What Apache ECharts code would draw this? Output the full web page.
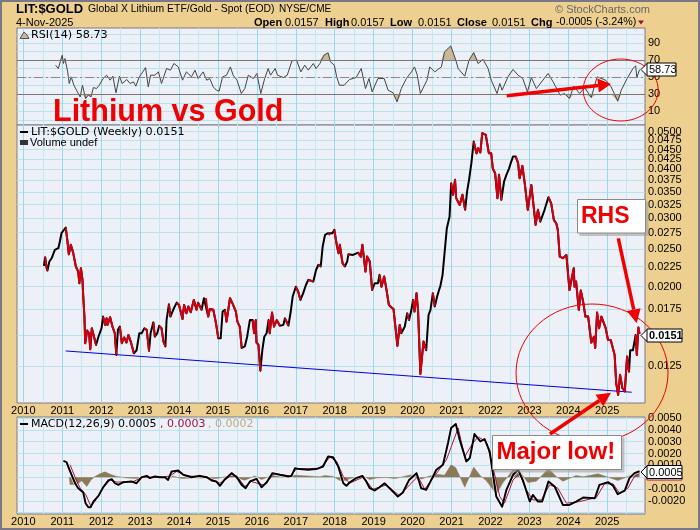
<!DOCTYPE html>
<html>
<head>
<meta charset="utf-8">
<title>LIT:$GOLD</title>
<script src="https://cdn.jsdelivr.net/npm/echarts@6/dist/echarts.min.js"></script>
<style>
html, body { margin: 0; padding: 0; background: #edcf90; }
#chart { width: 700px; height: 530px; }
</style>
</head>
<body>
<div id="chart"></div>
<script>
// weekly ratio (decimal year / close)
var priceYears = [2010.53,2010.56,2010.60,2010.62,2010.67,2010.73,2010.77,2010.81,2010.90,2010.94,2010.98,2011.03,2011.09,2011.13,2011.17,2011.22,2011.28,2011.35,2011.41,2011.44,2011.48,2011.52,2011.54,2011.57,2011.59,2011.64,2011.69,2011.72,2011.76,2011.81,2011.87,2011.93,2012.01,2012.05,2012.10,2012.14,2012.16,2012.23,2012.29,2012.35,2012.39,2012.43,2012.48,2012.53,2012.59,2012.65,2012.70,2012.76,2012.84,2012.91,2012.98,2013.04,2013.11,2013.17,2013.23,2013.27,2013.34,2013.38,2013.44,2013.49,2013.55,2013.60,2013.65,2013.68,2013.74,2013.78,2013.85,2013.94,2014.00,2014.09,2014.13,2014.19,2014.24,2014.30,2014.38,2014.45,2014.49,2014.58,2014.64,2014.69,2014.75,2014.79,2014.88,2014.95,2015.01,2015.07,2015.12,2015.18,2015.22,2015.31,2015.39,2015.46,2015.50,2015.56,2015.61,2015.69,2015.75,2015.82,2015.89,2015.93,2015.97,2015.99,2016.04,2016.09,2016.14,2016.19,2016.25,2016.30,2016.33,2016.39,2016.44,2016.51,2016.59,2016.68,2016.72,2016.81,2016.87,2016.92,2017.00,2017.06,2017.12,2017.19,2017.26,2017.32,2017.45,2017.52,2017.58,2017.64,2017.69,2017.75,2017.83,2017.88,2017.94,2017.99,2018.03,2018.06,2018.10,2018.13,2018.20,2018.26,2018.32,2018.35,2018.38,2018.47,2018.60,2018.67,2018.71,2018.79,2018.83,2018.90,2018.96,2019.03,2019.11,2019.15,2019.20,2019.27,2019.33,2019.39,2019.45,2019.51,2019.61,2019.67,2019.71,2019.80,2019.86,2019.91,2019.97,2020.01,2020.05,2020.10,2020.14,2020.20,2020.28,2020.35,2020.41,2020.46,2020.52,2020.57,2020.63,2020.68,2020.71,2020.77,2020.82,2020.88,2020.95,2020.99,2021.04,2021.09,2021.12,2021.21,2021.28,2021.35,2021.40,2021.45,2021.51,2021.57,2021.64,2021.68,2021.74,2021.79,2021.88,2021.96,2022.02,2022.06,2022.12,2022.18,2022.22,2022.28,2022.35,2022.41,2022.48,2022.52,2022.58,2022.65,2022.71,2022.75,2022.82,2022.88,2022.96,2023.05,2023.09,2023.16,2023.22,2023.28,2023.39,2023.49,2023.56,2023.63,2023.69,2023.73,2023.78,2023.86,2023.95,2024.03,2024.14,2024.16,2024.20,2024.27,2024.32,2024.38,2024.44,2024.51,2024.59,2024.66,2024.69,2024.74,2024.79,2024.85,2024.96,2025.02,2025.09,2025.19,2025.23,2025.28,2025.33,2025.39,2025.45,2025.51,2025.56,2025.59,2025.66,2025.73,2025.76,2025.80,2025.83];
var priceValues = [.02261,.02379,.02229,.02198,.02320,.02366,.02375,.02484,.02509,.02610,.02742,.02770,.02836,.02636,.02420,.02560,.02444,.02252,.02185,.02040,.02229,.02081,.01886,.01674,.01430,.01541,.01517,.01380,.01563,.01557,.01416,.01486,.01563,.01674,.01594,.01657,.01594,.01667,.01578,.01517,.01334,.01548,.01578,.01430,.01480,.01436,.01501,.01444,.01347,.01372,.01517,.01517,.01563,.01548,.01367,.01517,.01618,.01486,.01517,.01585,.01563,.01444,.01403,.01640,.01800,.01674,.01743,.01818,.01794,.01650,.01794,.01708,.01777,.01718,.01848,.01743,.01818,.01743,.01867,.01867,.01674,.01750,.01743,.01609,.01472,.01472,.01725,.01743,.01625,.01867,.01794,.01725,.01625,.01578,.01391,.01403,.01486,.01640,.01640,.01517,.01640,.01436,.01416,.01215,.01372,.01486,.01517,.01640,.01517,.01715,.01578,.01640,.01585,.01594,.01657,.01588,.01725,.01886,.01998,.01942,.01848,.01923,.02018,.02081,.02060,.02206,.02275,.02252,.02535,.02714,.02742,.02714,.02742,.02798,.02636,.02535,.02434,.02560,.02298,.02252,.02320,.02420,.02397,.02411,.02444,.02388,.02560,.02185,.02388,.02320,.01960,.02040,.02040,.02143,.01998,.02123,.01960,.01794,.01770,.01750,.01408,.01594,.01517,.01578,.01708,.01640,.01743,.01848,.01725,.01923,.01743,.01193,.01444,.01372,.01691,.01743,.01923,.01777,.01886,.01960,.01998,.02143,.02434,.02825,.03026,.03686,.03443,.03761,.03374,.03241,.03443,.03149,.03511,.03761,.04150,.04718,.04398,.04535,.04425,.04956,.04905,.04398,.04398,.04026,.03910,.03374,.03873,.03340,.03723,.03873,.04026,.04150,.04315,.04315,.04150,.03798,.04084,.03686,.03149,.03648,.03611,.02881,.03149,.02936,.03149,.03394,.03272,.02964,.02908,.02798,.02388,.02366,.02411,.01960,.02229,.01998,.02060,.01743,.01953,.01830,.01674,.01674,.01436,.01486,.01391,.01715,.01563,.01674,.01563,.01458,.01458,.01334,.01129,.01054,.01186,.01096,.01075,.01322,.01209,.01372,.01372,.01501,.01334,.01570,.01510];

var trendYears = [2011.09, 2025.63];
var trendValues = [.01366, .0107];

var rsiYears = [2010.83,2010.90,2010.96,2011.00,2011.03,2011.07,2011.14,2011.18,2011.23,2011.30,2011.39,2011.46,2011.52,2011.60,2011.67,2011.74,2011.80,2011.88,2011.95,2012.05,2012.14,2012.23,2012.30,2012.38,2012.47,2012.54,2012.66,2012.74,2012.83,2012.89,2012.98,2013.07,2013.14,2013.21,2013.27,2013.38,2013.47,2013.55,2013.60,2013.68,2013.78,2013.87,2013.98,2014.09,2014.19,2014.32,2014.41,2014.49,2014.62,2014.71,2014.79,2014.88,2014.96,2015.03,2015.12,2015.22,2015.32,2015.39,2015.49,2015.60,2015.69,2015.78,2015.91,2016.00,2016.10,2016.20,2016.29,2016.35,2016.47,2016.53,2016.68,2016.78,2016.90,2017.02,2017.13,2017.23,2017.32,2017.45,2017.52,2017.62,2017.72,2017.83,2017.89,2017.99,2018.05,2018.12,2018.24,2018.38,2018.55,2018.68,2018.79,2018.88,2018.96,2019.11,2019.27,2019.37,2019.50,2019.60,2019.71,2019.84,2019.97,2020.05,2020.12,2020.20,2020.37,2020.44,2020.57,2020.74,2020.82,2020.98,2021.11,2021.17,2021.34,2021.45,2021.57,2021.68,2021.81,2021.94,2022.02,2022.17,2022.24,2022.30,2022.45,2022.58,2022.71,2022.83,2022.95,2023.05,2023.18,2023.48,2023.61,2023.79,2023.90,2024.03,2024.14,2024.29,2024.42,2024.59,2024.74,2024.96,2025.10,2025.27,2025.36,2025.51,2025.66,2025.73,2025.76,2025.83];
var rsiValues = [64,60.1,69.9,75.7,66,71.8,56.2,42.6,50.4,40.6,32.8,27,40.6,25,29,27,37.9,36.7,40.6,48.4,52.3,46.5,51.2,31.7,51.2,42.6,47.3,42.6,44.5,39.5,50.4,56.2,61.3,38.7,52.3,52.3,56.2,42.6,40.6,60.1,58.2,66,62,46.5,56.2,50.4,58.2,48.4,56.2,46.5,48.4,38.7,34.8,33.6,50.4,52.3,62,52.3,46.5,30.9,36.7,52.3,48.4,54.3,30.9,48.4,60.1,52.3,60.1,52.3,49.6,52.3,69.1,69.9,56.2,64,58.2,66,60.1,66,75.7,78.5,67.9,64,50.4,40.6,40.6,47.3,49.6,60.1,36.7,48.4,32.8,48.4,48.4,34.8,31.7,21.2,36.7,48.4,56.2,62,52.3,30.9,46.5,62,56.2,62,79.6,86.6,69.9,60.1,51.2,69.9,78.8,66,70.7,60.1,46.5,30.9,42.6,34.8,50.4,59,52.3,48.4,32.8,49.6,36.7,54.3,44.5,29,30.9,25,39.5,30.9,37.9,26.2,50.4,46.5,38.7,21.9,34.8,48.4,60.1,63.3,49.6,58.73];

var macdYears = [2011.03,2011.11,2011.17,2011.24,2011.33,2011.41,2011.48,2011.54,2011.60,2011.67,2011.73,2011.80,2011.93,2012.05,2012.18,2012.27,2012.35,2012.44,2012.57,2012.78,2012.91,2013.04,2013.17,2013.25,2013.38,2013.51,2013.64,2013.72,2013.81,2013.98,2014.11,2014.32,2014.54,2014.71,2014.84,2014.96,2015.05,2015.18,2015.35,2015.48,2015.61,2015.71,2015.82,2015.99,2016.12,2016.25,2016.40,2016.59,2016.81,2016.89,2016.98,2017.10,2017.32,2017.53,2017.70,2017.83,2017.96,2018.09,2018.22,2018.30,2018.38,2018.55,2018.71,2018.81,2018.90,2019.03,2019.15,2019.28,2019.45,2019.62,2019.75,2019.91,2020.10,2020.22,2020.35,2020.48,2020.61,2020.78,2020.91,2020.99,2021.11,2021.21,2021.38,2021.47,2021.59,2021.74,2021.85,2021.98,2022.08,2022.15,2022.30,2022.41,2022.58,2022.71,2022.83,2023.01,2023.09,2023.22,2023.33,2023.49,2023.65,2023.86,2024.03,2024.20,2024.38,2024.68,2024.80,2025.02,2025.15,2025.27,2025.45,2025.57,2025.70,2025.83];
var macdValues = [.00138,.00127,.00076,.0002,-.00051,-.00093,-.00113,-.0013,-.0022,-.00254,-.00254,-.00206,-.00158,-.00085,-.00028,-.00017,-.00051,-.00065,-.00042,-.00037,-.00051,0,.00011,-.00008,.00006,0,0,-.00023,.00048,.00056,.0002,0,.00011,0,-.00028,-.00037,-.00073,-.00017,.00034,0,-.00065,-.00093,-.00037,-.00014,-.00085,-.00045,.00034,.0002,.00006,.00011,.00076,.00068,.00062,.00068,.0009,.00175,.00169,.0009,-.00051,-.00073,-.00045,-.00008,.00011,-.00037,-.00093,-.00113,-.00085,-.00051,-.00107,-.00164,-.0013,-.00023,.00034,-.00093,-.00107,-.00023,.00062,.00105,.00288,.00415,.00449,.00316,.00133,.00161,.00364,.00302,.00322,.00218,-.00008,-.00164,-.00249,-.00107,.0002,.00062,-.00023,-.00206,-.0015,-.00206,-.00206,-.00037,-.00079,-.00234,-.00234,-.00206,-.00172,-.00178,-.00065,-.00042,-.00073,-.00144,-.00113,-.00008,.00034,.0005];

var signalYears = [2011.20,2011.33,2011.46,2011.61,2011.73,2011.84,2012.05,2012.23,2012.40,2012.82,2013.08,2013.60,2013.77,2013.94,2014.19,2014.71,2015.05,2015.31,2015.48,2015.69,2015.86,2016.16,2016.46,2016.85,2017.02,2017.62,2017.88,2018.05,2018.22,2018.38,2018.73,2018.98,2019.33,2019.67,2019.92,2020.14,2020.31,2020.65,2020.87,2021.17,2021.34,2021.55,2021.68,2021.89,2022.06,2022.24,2022.36,2022.58,2022.75,2022.92,2023.09,2023.31,2023.52,2023.73,2023.95,2024.29,2024.72,2024.93,2025.15,2025.32,2025.53,2025.70,2025.83];
var signalValues = [.00105,0,-.00093,-.0015,-.00243,-.00206,-.00093,-.00023,-.00042,-.00037,0,0,.00011,.00048,.00011,0,-.00051,.00006,.00011,-.00079,-.00037,-.00065,.00028,.00011,.00068,.00076,.00169,.00133,.00006,-.00051,0,-.00102,-.00065,-.00158,-.00065,.00006,-.00102,.00048,.00147,.00415,.00175,.00288,.00339,.00302,.0009,-.00164,-.0022,-.00023,.00028,-.00107,-.00192,-.00192,-.00065,-.00093,-.0022,-.00206,-.00172,-.00056,-.00056,-.00136,-.00093,.00006,.0003];

var histYears = [2011.18,2011.20,2011.37,2011.50,2011.63,2011.73,2011.84,2011.97,2012.10,2012.23,2012.40,2012.65,2012.91,2013.08,2013.68,2013.85,2014.07,2014.37,2014.71,2014.96,2015.31,2015.52,2015.69,2015.95,2016.12,2016.38,2016.76,2016.98,2017.62,2017.75,2017.96,2018.13,2018.30,2018.38,2018.73,2018.90,2019.07,2019.33,2019.54,2019.75,2019.91,2020.10,2020.22,2020.40,2020.61,2020.82,2020.99,2021.11,2021.34,2021.57,2021.74,2021.89,2022.15,2022.32,2022.58,2022.71,2022.96,2023.18,2023.49,2023.69,2023.86,2024.20,2024.38,2024.76,2024.97,2025.27,2025.45,2025.75,2025.83];
var histValues = [0,-.00062,-.00062,-.0003,-.00078,-.00028,.00006,.00028,.00045,.00025,.00006,-.00006,-.00012,-.00003,-.00006,.00008,-.00012,-.00006,-.00008,-.00012,.00011,-.0001,-.00025,.0001,-.0002,.00014,0,.00017,.00003,.00014,.00006,-.00028,-.00028,-.00012,.0001,-.0002,-.00006,-.00003,-.00012,.00003,.00017,.00022,-.00017,.00006,.00025,.00017,.00104,.00079,-.00085,.00085,.00011,-.00028,-.00142,-.00048,.00062,.0007,-.00045,-.00034,.00071,.00006,-.00034,.00014,.00003,.00028,.00006,-.00028,-.00006,.0004,.0002];

var yearTicks = [2010,2011,2012,2013,2014,2015,2016,2017,2018,2019,2020,2021,2022,2023,2024,2025];
var rsiGridTicks = [0,10,20,30,40,50,60,70,80,90,100];
var rsiLabelTicks = [10,30,50,70,90];
var rsiLevels = [30,70];
var priceGridTicks = [.0125,.015,.0175,.02,.0225,.025,.0275,.03,.0325,.035,.0375,.04,.0425,.045,.0475,.05];
// .052 prints nothing: it stops the axis dropping .0475 for crowding the top label
var priceLabelTicks = [.0125,.0175,.02,.0225,.025,.0275,.03,.0325,.035,.0375,.04,.0425,.045,.0475,.05,.052];
var macdGridTicks = [-.003,-.002,-.001,0,.001,.002,.003,.004,.005];
var macdLabelTicks = [-.002,-.001,.001,.002,.003,.004,.005];

var FONT = '"Liberation Sans", Arial, sans-serif';
var WIDE = '"DejaVu Sans", Verdana, sans-serif';
var RED = '#f00000';
var PANEL = '#eef0f8';
var FRAME = '#787888';
var GRID_H = '#b8e3ec';
var GRID_MAJOR = '#9ad8ec';

function pairs(xs, ys) {
	return xs.map(function (x, i) { return [x, ys[i]]; });
}

// the close line goes red on the falling weeks, black on the rest
function fallingOnly() {
	return priceYears.map(function (x, i) {
		var falling = (i > 0 && priceValues[i] < priceValues[i - 1]) ||
			(i < priceValues.length - 1 && priceValues[i + 1] < priceValues[i]);
		return [x, falling ? priceValues[i] : null];
	});
}

function xAxisFor(gridIndex, showLabels) {
	return {
		type: 'value',
		gridIndex: gridIndex,
		min: 2009.838,
		max: 2025.97,
		axisLine: { show: false },
		axisTick: {
			show: false,
			customValues: yearTicks.reduce(function (acc, y) { return acc.concat([y, y + 0.5]); }, [])
		},
		axisLabel: {
			show: showLabels,
			customValues: yearTicks,
			formatter: function (v) { return String(Math.round(v)); },
			color: '#000',
			fontFamily: FONT,
			fontSize: 11,
			margin: 2
		},
		splitLine: { show: true, lineStyle: { color: [GRID_MAJOR, '#c2e9f1'], width: 1 } }
	};
}

function yAxisFor(gridIndex, extra, labelTicks, gridTicks, fmt) {
	return Object.assign({
		gridIndex: gridIndex,
		position: 'right',
		axisLine: { show: false },
		axisTick: { show: false, customValues: gridTicks },
		axisLabel: {
			customValues: labelTicks,
			formatter: fmt,
			color: '#000',
			fontFamily: FONT,
			fontSize: 11,
			margin: 3,
			showMinLabel: true,
			showMaxLabel: true
		},
		splitLine: { show: true, lineStyle: { color: GRID_H, width: 1 } }
	}, extra);
}

function lineSeries(name, xi, data, color, width, z) {
	return {
		name: name,
		type: 'line',
		xAxisIndex: xi,
		yAxisIndex: xi,
		data: data,
		symbol: 'none',
		silent: true,
		z: z || 3,
		lineStyle: { color: color, width: width, join: 'round' }
	};
}

function tanArea(name, level, data) {
	var s = lineSeries(name, 0, data, 'transparent', 0, 2);
	s.areaStyle = { color: '#c8b798', opacity: 1, origin: level };
	return s;
}

function txt(text, x, y, size, opts) {
	opts = opts || {};
	return {
		type: 'text',
		x: x,
		y: y,
		z: opts.z || 30,
		style: {
			text: text,
			fontFamily: opts.family || FONT,
			fontSize: size,
			fontWeight: opts.weight || 'normal',
			fill: opts.color || '#000',
			textVerticalAlign: 'middle',
			textAlign: opts.align || 'left'
		}
	};
}

function arrow(x1, y1, x2, y2, w, headLen, headHalf) {
	var dx = x2 - x1, dy = y2 - y1, len = Math.sqrt(dx * dx + dy * dy);
	var ux = dx / len, uy = dy / len;
	var bx = x2 - ux * headLen, by = y2 - uy * headLen;
	return [
		{ type: 'line', z: 28, shape: { x1: x1, y1: y1, x2: bx, y2: by }, style: { stroke: RED, lineWidth: w } },
		{ type: 'polygon', z: 28, shape: { points: [[x2, y2], [bx - uy * headHalf, by + ux * headHalf], [bx + uy * headHalf, by - ux * headHalf]] }, style: { fill: RED } }
	];
}

function noteBox(x, y, w, h, label, tx, size) {
	return [
		{ type: 'rect', z: 27, shape: { x: x + 2, y: y + 2, width: w + 1, height: h + 1 }, style: { fill: '#9a9a9a', opacity: 0.55 } },
		{ type: 'rect', z: 28, shape: { x: x, y: y, width: w, height: h }, style: { fill: '#fff', stroke: '#8a8a8a', lineWidth: 1 } },
		txt(label, tx, y + h / 2, size, { weight: 'bold', color: RED })
	];
}

function valueTag(label, x, y, w, bold) {
	return [
		{ type: 'polygon', z: 31, shape: { points: [[x - 6, y], [x, y - 6], [x + 2, y - 6], [x + 2, y + 6], [x, y + 6]] }, style: { fill: '#fff', stroke: '#000', lineWidth: 1 } },
		{ type: 'rect', z: 31, shape: { x: x, y: y - 6.5, width: w, height: 13 }, style: { fill: '#fff', stroke: '#000', lineWidth: 1 } },
		txt(label, x + 2, y + 0.5, 11, { weight: bold ? 'bold' : 'normal', z: 32 })
	];
}

var headerItems = [
	txt('LIT:$GOLD', 16, 9.5, 13, { weight: 'bold' }),
	txt('Global X Lithium ETF/Gold - Spot (EOD)', 88, 9.5, 10.4),
	txt('NYSE/CME', 279, 9.5, 10),
	txt('4-Nov-2025', 16, 22.5, 11),
	txt('Open', 254, 22.5, 11, { weight: 'bold' }),
	txt('0.0157', 285, 22.5, 11),
	txt('High', 325, 22.5, 11, { weight: 'bold' }),
	txt('0.0157', 351, 22.5, 11),
	txt('Low', 390, 22.5, 11, { weight: 'bold' }),
	txt('0.0151', 418, 22.5, 11),
	txt('Close', 457, 22.5, 11, { weight: 'bold' }),
	txt('0.0151', 492, 22.5, 11),
	txt('Chg', 531, 22.5, 11, { weight: 'bold' }),
	txt('-0.0005 (-3.24%)', 556, 22.5, 10.7),
	{ type: 'polygon', z: 30, shape: { points: [[638, 20.5], [644, 20.5], [641, 24.5]] }, style: { fill: '#a01030' } },
	txt('\u00a9 StockCharts.com', 555, 9.5, 11, { color: '#666' })
];

var legendItems = [
	{ type: 'polygon', z: 30, shape: { points: [[20, 38.5], [24, 32], [27, 35], [29, 38.5]] }, style: { fill: '#c8b798', stroke: '#333', lineWidth: 0.8 } },
	txt('RSI(14) 58.73', 31, 35.5, 11.2, { family: WIDE }),
	{ type: 'rect', z: 30, shape: { x: 20, y: 131, width: 8, height: 2 }, style: { fill: '#000' } },
	txt('LIT:$GOLD (Weekly) 0.0151', 31, 132.5, 11.2, { family: WIDE }),
	{ type: 'rect', z: 30, shape: { x: 20, y: 140, width: 8, height: 5 }, style: { fill: '#333' } },
	txt('Volume undef', 30, 142.5, 11),
	{ type: 'rect', z: 30, shape: { x: 20, y: 423, width: 8, height: 2 }, style: { fill: '#000' } },
	txt('MACD(12,26,9) 0.0005', 31, 424.5, 11, { family: WIDE }),
	txt(', 0.0003', 160, 424.5, 11, { family: WIDE, color: '#a01040' }),
	txt(', 0.0002', 208, 424.5, 11, { family: WIDE, color: '#c0aa80' })
];

var annotations = [
	txt('Lithium vs Gold', 53, 113, 30.5, { weight: 'bold', color: RED, z: 26 }),
	{ type: 'ellipse', z: 26, shape: { cx: 620.7, cy: 90, rx: 37.5, ry: 31 }, style: { fill: 'none', stroke: RED, lineWidth: 1 } },
	{ type: 'ellipse', z: 26, shape: { cx: 592, cy: 373, rx: 76, ry: 69 }, style: { fill: 'none', stroke: RED, lineWidth: 1 } }
]
	.concat(arrow(506.7, 95.7, 611, 84, 3.5, 13, 7))
	.concat(noteBox(577.5, 199.5, 68, 33.5, 'RHS', 581, 23))
	.concat(arrow(618.3, 238.3, 636.7, 323.3, 3.5, 14, 7))
	.concat(arrow(550, 434, 611, 392.7, 3.5, 14, 7))
	.concat(noteBox(492.5, 435.5, 129, 34, 'Major low!', 496.5, 24));

var tags = []
	.concat(valueTag('58.73', 647, 69.5, 29, false))
	.concat(valueTag('0.0151', 647, 335.5, 35, true))
	.concat(valueTag('0.0005', 647, 472, 35, false))
	.concat([
		{ type: 'rect', z: 30, shape: { x: 647, y: 477, width: 35, height: 3 }, style: { fill: '#fff', stroke: '#a01040', lineWidth: 1 } }
	]);

var outerFrame = { type: 'rect', z: 40, shape: { x: 1, y: 1, width: 698, height: 528 }, style: { fill: 'none', stroke: FRAME, lineWidth: 2 } };

var chart = echarts.init(document.getElementById('chart'), null, { renderer: 'canvas' });

function panelGrid(top, height) {
	return { left: 17, right: 55, top: top, height: height, show: true, backgroundColor: PANEL, borderColor: FRAME, borderWidth: 1, containLabel: false };
}

var rsiLine = lineSeries('RSI', 0, pairs(rsiYears, rsiValues), '#444', 1, 4);
rsiLine.markLine = {
	silent: true,
	symbol: 'none',
	label: { show: false },
	animation: false,
	data: rsiLevels.map(function (v) {
		return { yAxis: v, lineStyle: { color: '#777', type: 'solid', width: 1.2 } };
	}).concat([{ yAxis: 50, lineStyle: { color: '#888', type: [9, 3, 2, 3], width: 1 } }])
};

var histSeries = lineSeries('Hist', 2, pairs(histYears, histValues), '#8a7a58', 0.5, 2);
histSeries.areaStyle = { color: '#8a7a58', opacity: 1, origin: 0 };

chart.setOption({
	animation: false,
	backgroundColor: '#edcf90',
	grid: [panelGrid(28, 97), panelGrid(125, 278), panelGrid(417, 97)],
	xAxis: [xAxisFor(0, false), xAxisFor(1, true), xAxisFor(2, true)],
	yAxis: [
		yAxisFor(0, { type: 'value', min: -5.9, max: 107.5 }, rsiLabelTicks, rsiGridTicks, function (v) { return String(v); }),
		yAxisFor(1, { type: 'log', min: 0.01004, max: 0.05202, logBase: 10 }, priceLabelTicks, priceGridTicks, function (v) { return v > 0.051 ? '' : v.toFixed(4); }),
		yAxisFor(2, { type: 'value', min: -0.00311, max: 0.00508 }, macdLabelTicks, macdGridTicks, function (v) { return v.toFixed(4); })
	],
	series: [
		tanArea('RSI over', 70, rsiValues.map(function (v, i) { return [rsiYears[i], Math.max(v, 70)]; })),
		tanArea('RSI under', 30, rsiValues.map(function (v, i) { return [rsiYears[i], Math.min(v, 30)]; })),
		rsiLine,
		lineSeries('Trend', 1, pairs(trendYears, trendValues), '#0000e6', 1, 3),
		lineSeries('Close', 1, pairs(priceYears, priceValues), '#000', 2, 4),
		lineSeries('Close falling', 1, fallingOnly(), '#d00010', 2, 5),
		histSeries,
		lineSeries('MACD halo', 2, pairs(macdYears, macdValues), 'rgba(255,255,255,0.7)', 3.5, 3),
		lineSeries('Signal', 2, pairs(signalYears, signalValues), '#b01048', 1, 4),
		lineSeries('MACD', 2, pairs(macdYears, macdValues), '#000', 2, 5)
	],
	graphic: headerItems.concat(legendItems, annotations, tags, [outerFrame])
});
</script>
</body>
</html>
